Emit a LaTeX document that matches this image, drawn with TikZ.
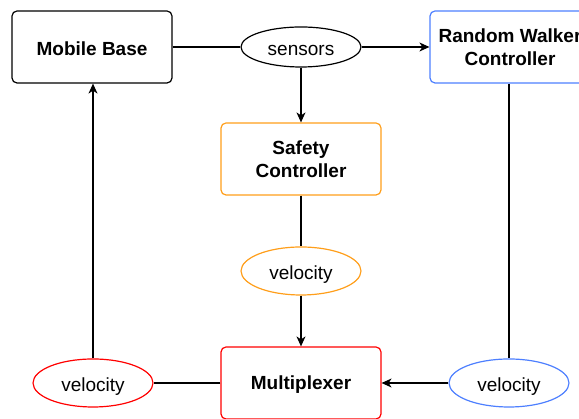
\documentclass[tikz,border=0pt]{standalone}
\usepackage{fontspec}
\setmainfont{Liberation Sans}
\usetikzlibrary{arrows.meta, shapes.geometric}

\definecolor{walkerblue}{HTML}{4D7FFF}
\definecolor{safeorange}{HTML}{FF9E1A}
\definecolor{muxred}{HTML}{FF0000}

\begin{document}
\begin{tikzpicture}[x=1pt, y=1pt, line width=1.2pt,
  block/.style={draw, rounded corners=5pt, minimum width=160pt, minimum height=72pt,
    align=center, font=\fontsize{19}{23}\selectfont\bfseries},
  oneline/.style={text height=17pt},
  topic/.style={draw, ellipse, minimum width=120pt, minimum height=48pt, inner sep=0pt,
    text height=18pt, text depth=0pt, font=\fontsize{19}{23}\selectfont},
  flow/.style={-{Stealth[length=10pt, width=9pt, inset=3pt]}}]
  \useasboundingbox (0,0) rectangle (579,419);
  \node[block, oneline] (base) at (92,372) {Mobile Base};
  \node[topic, minimum height=40pt] (sensors) at (301,372) {sensors};
  \node[block, draw=walkerblue] (walker) at (510,372) {Random Walker\\Controller};
  \node[block, draw=safeorange] (safety) at (301,260) {Safety\\Controller};
  \node[topic, draw=safeorange] (vsafe) at (301,148) {velocity};
  \node[block, oneline, draw=muxred] (mux) at (301,36) {Multiplexer};
  \node[topic, draw=muxred] (vbase) at (93,36) {velocity};
  \node[topic, draw=walkerblue] (vwalk) at (509,36) {velocity};
  % sensor stream
  \draw (base) -- (sensors);
  \draw[flow] (sensors) -- (walker);
  \draw[flow] (sensors) -- (safety);
  % velocity commands
  \draw (safety) -- (vsafe);
  \draw[flow] (vsafe) -- (mux);
  \draw (walker.south -| vwalk.north) -- (vwalk.north);
  \draw[flow] (vwalk) -- (mux);
  \draw (mux) -- (vbase);
  \draw[flow] (vbase) -- (vbase |- base.south);
\end{tikzpicture}
\end{document}
